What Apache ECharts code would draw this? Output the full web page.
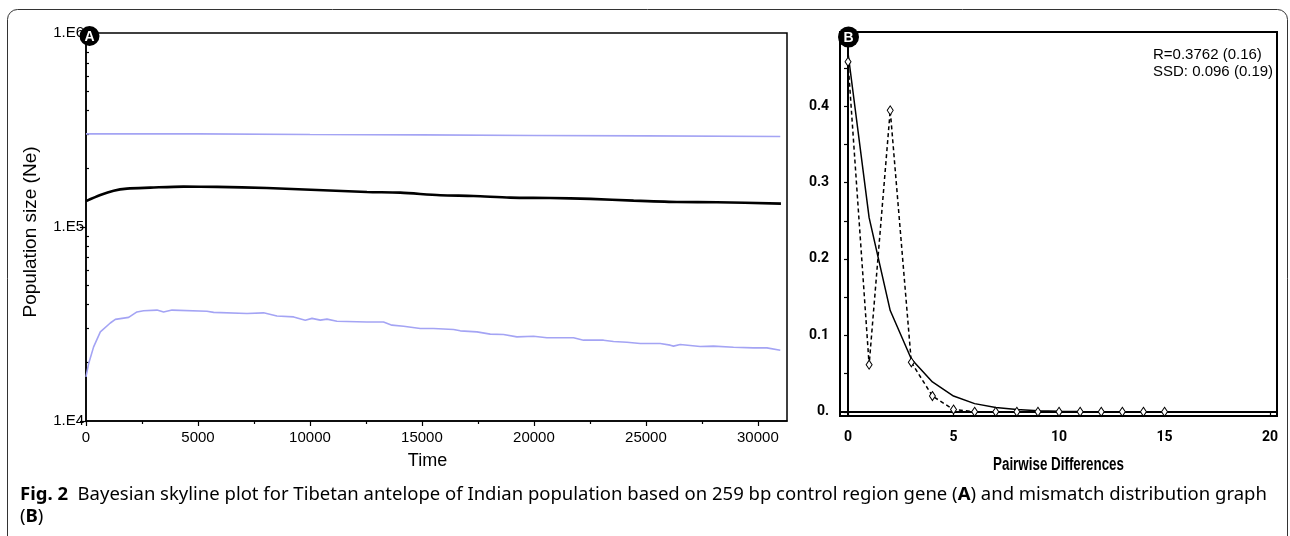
<!DOCTYPE html>
<html>
<head>
<meta charset="utf-8">
<script src="https://cdn.jsdelivr.net/npm/echarts@6/dist/echarts.min.js"></script>
<style>
html,body{margin:0;padding:0;background:#fff;}
#chart{width:1290px;height:536px;}
</style>
</head>
<body>
<div id="chart"></div>
<script>
// ---- Panel A: Bayesian skyline ----
const lowerTime = [0,120,340,640,1085,1310,1905,2275,2570,3170,3465,3840,5400,5700,7190,7930,8525,9270,9790,10090,10460,10760,11205,12545,13285,13660,14180,14925,15518,16411,16710,17455,18049,18643,19240,19982,20580,21768,22214,23107,23554,24152,24746,25638,26085,26233,26531,27424,28018,28911,29804,30402,31000];
const lowerVals = [16900,19800,24100,28800,32000,33400,34200,36500,37000,37300,36500,37300,36800,36300,35800,36100,34800,34400,33100,33800,33100,33500,32700,32400,32400,31200,30800,30000,29990,29640,29160,28790,28030,27930,27150,27360,26840,26840,26100,26100,25700,25480,25100,25100,24600,24320,24780,24210,24320,24000,23820,23820,23170];
const medianTime = [0,640,1235,1830,2870,4357,5848,8080,10313,12545,14031,15818,17308,18948,20734,22520,24450,26384,28170,31030];
const medianVals = [136000,146300,153900,157700,159500,161500,161000,158900,155200,151600,150300,145800,144600,141700,141200,139600,136700,134600,134200,131900];
const upperTime = [0,5000,10000,15000,20000,25000,31000];
const upperVals = [302000,302000,300000,298500,296500,295000,292700];
const timeTicks = [0,5000,10000,15000,20000,25000,30000];
const timeMinorTicks = [2500,7500,12500,17500,22500,27500];
const neTicks = [1e4,1e5,1e6];
const neMinorTicks = [2e4,3e4,4e4,5e4,6e4,7e4,8e4,9e4,2e5,3e5,4e5,5e5,6e5,7e5,8e5,9e5];

// ---- Panel B: mismatch distribution ----
const obsDiff = [0,1,2,3,4,5,6,7,8,9,10,11,12,13,14,15];
const obsFreq = [0.458,0.0616,0.3945,0.0648,0.0206,0.003,0,0,0,0,0,0,0,0,0,0];
const expDiff = [0,1,2,3,4,5,6,7,8,9,10,11,12,13,14,15,16,17,18,19,20];
const expFreq = [0.4695,0.254,0.1325,0.069,0.039,0.0206,0.0107,0.0055,0.0029,0.0015,0.0008,0.0004,0.0002,0.0001,0.0001,0,0,0,0,0,0];
const diffTicks = [0,5,10,15,20];
const freqTicks = [0,0.1,0.2,0.3,0.4];
const freqMinorTicks = [0,0.05,0.1,0.15,0.2,0.25,0.3,0.35,0.4,0.45];

const zip = (xs, ys) => xs.map((x, i) => [x, ys[i]]);
const ARIAL = 'Liberation Sans';
const CAPTION = 'Noto Sans';
const BLUE = '#a4a4f4';

// narrow-looking bold axis title for panel B
const bTitle = 'Pairwise Differences';
const mctx = document.createElement('canvas').getContext('2d');
mctx.font = 'bold 18px Liberation Sans';
const bTitleScale = 131 / mctx.measureText(bTitle).width;

const chart = echarts.init(document.getElementById('chart'), null, {renderer: 'canvas'});

const option = {
  backgroundColor: '#fff',
  animation: false,
  grid: [
    {left: 86, top: 33, width: 701, height: 388, show: true, borderColor: '#000', borderWidth: 1.5, backgroundColor: 'transparent'},
    {left: 840, top: 32, width: 437, height: 384, show: true, borderColor: '#000', borderWidth: 2, backgroundColor: 'transparent'}
  ],
  xAxis: [
    {
      gridIndex: 0, type: 'value', min: 0, max: 31300, position: 'bottom',
      axisLine: {show: true, lineStyle: {color: '#000', width: 1.5}},
      axisTick: {show: true, customValues: timeTicks, length: 5, lineStyle: {color: '#000', width: 1.2}},
      axisLabel: {customValues: timeTicks, color: '#000', fontSize: 15, fontFamily: ARIAL, margin: 9,
        formatter: v => String(v)},
      splitLine: {show: false},
      name: 'Time', nameLocation: 'middle', nameGap: 31,
      nameTextStyle: {color: '#000', fontSize: 18, fontFamily: ARIAL, padding: [0, 18, 0, 0]}
    },
    {
      gridIndex: 0, type: 'value', min: 0, max: 31300, position: 'bottom',
      axisLine: {show: false},
      axisTick: {show: true, customValues: timeMinorTicks, length: 3, lineStyle: {color: '#000', width: 1.2}},
      axisLabel: {show: false},
      splitLine: {show: false}
    },
    {
      gridIndex: 1, type: 'value', min: -0.38, max: 20.33, position: 'bottom',
      axisLine: {show: true, lineStyle: {color: '#000', width: 2}},
      axisTick: {show: true, customValues: diffTicks, length: 5, lineStyle: {color: '#000', width: 1.2}},
      axisLabel: {customValues: diffTicks, color: '#000', fontSize: 14, fontWeight: 'bold', fontFamily: 'Roboto', margin: 14,
        formatter: v => String(v)},
      splitLine: {show: false}
    }
  ],
  yAxis: [
    {
      gridIndex: 0, type: 'log', logBase: 10, min: 1e4, max: 1e6,
      axisLine: {show: true, lineStyle: {color: '#000', width: 1.5}},
      axisTick: {show: true, customValues: neTicks, length: 6, lineStyle: {color: '#000', width: 1.2}},
      axisLabel: {customValues: neTicks, color: '#000', fontSize: 15, fontFamily: ARIAL, margin: 2,
        formatter: v => '1.E' + Math.round(Math.log10(v))},
      splitLine: {show: false},
      name: 'Population size (Ne)', nameLocation: 'middle', nameGap: 46, nameRotate: 90,
      nameTextStyle: {color: '#000', fontSize: 19, fontFamily: ARIAL, padding: [0, 10, 0, 0]}
    },
    {
      gridIndex: 0, type: 'log', logBase: 10, min: 1e4, max: 1e6,
      axisLine: {show: false},
      axisTick: {show: true, customValues: neMinorTicks, length: 3, lineStyle: {color: '#000', width: 1.2}},
      axisLabel: {show: false},
      splitLine: {show: false}
    },
    {
      gridIndex: 1, type: 'value', min: -0.0055, max: 0.497,
      axisLine: {show: true, lineStyle: {color: '#000', width: 2}},
      axisTick: {show: true, customValues: freqMinorTicks, length: 4, lineStyle: {color: '#000', width: 1.2}},
      axisLabel: {customValues: freqTicks, color: '#000', fontSize: 14, fontWeight: 'bold', fontFamily: 'Roboto', margin: 11,
        formatter: v => v === 0 ? '0.' : v.toFixed(1)},
      splitLine: {show: false}
    }
  ],
  series: [
    {type: 'line', xAxisIndex: 0, yAxisIndex: 0, data: zip(upperTime, upperVals), showSymbol: false,
      lineStyle: {color: BLUE, width: 1.6}, z: 3},
    {type: 'line', xAxisIndex: 0, yAxisIndex: 0, data: zip(lowerTime, lowerVals), showSymbol: false,
      lineStyle: {color: BLUE, width: 1.6}, z: 3},
    {type: 'line', xAxisIndex: 0, yAxisIndex: 0, data: zip(medianTime, medianVals), showSymbol: false,
      smooth: 0.3, lineStyle: {color: '#000', width: 2.6}, z: 4},
    {type: 'line', xAxisIndex: 2, yAxisIndex: 2, data: zip(expDiff, expFreq), showSymbol: false,
      lineStyle: {color: '#000', width: 1.5}, z: 3},
    {type: 'line', xAxisIndex: 2, yAxisIndex: 2, data: zip(obsDiff, obsFreq), symbol: 'diamond', symbolSize: [6, 9],
      showSymbol: true,
      itemStyle: {color: '#fff', borderColor: '#000', borderWidth: 1},
      lineStyle: {color: '#000', width: 1.5, type: [4, 3]}, z: 4}
  ],
  graphic: [
    {type: 'rect', shape: {x: 7.5, y: 9.5, width: 1280, height: 540, r: 10}, style: {fill: 'none', stroke: '#333', lineWidth: 1}, z: 0, silent: true},
    {type: 'circle', shape: {cx: 89.5, cy: 36, r: 10}, style: {fill: '#000'}, z: 100},
    {type: 'text', x: 89.5, y: 37, style: {text: 'A', fill: '#fff', fontSize: 14, fontWeight: 'bold', fontFamily: ARIAL, align: 'center', verticalAlign: 'middle'}, z: 101},
    {type: 'circle', shape: {cx: 848.5, cy: 37, r: 10.5}, style: {fill: '#000'}, z: 100},
    {type: 'text', x: 848.5, y: 38, style: {text: 'B', fill: '#fff', fontSize: 14, fontWeight: 'bold', fontFamily: ARIAL, align: 'center', verticalAlign: 'middle'}, z: 101},
    {type: 'text', x: 1153, y: 46, style: {text: 'R=0.3762 (0.16)\nSSD: 0.096 (0.19)', fill: '#000', fontSize: 15, fontFamily: ARIAL, lineHeight: 17}, z: 100},
    {type: 'text', x: 1058.5, y: 465, scaleX: bTitleScale, style: {text: bTitle, fill: '#000', fontSize: 18, fontWeight: 'bold', fontFamily: ARIAL, align: 'center', verticalAlign: 'middle'}, z: 100},
    {type: 'text', x: 20, y: 484, style: {
      text: '{b|Fig. 2}  Bayesian skyline plot for Tibetan antelope of Indian population based on 259 bp control region gene ({b|A}) and mismatch distribution graph\n({b|B})',
      fill: '#000', fontSize: 18.5, fontFamily: CAPTION, lineHeight: 22,
      rich: {b: {fontWeight: 'bold', fontSize: 18.5, fontFamily: CAPTION}}
    }, z: 100}
  ]
};
chart.setOption(option);
</script>
</body>
</html>
